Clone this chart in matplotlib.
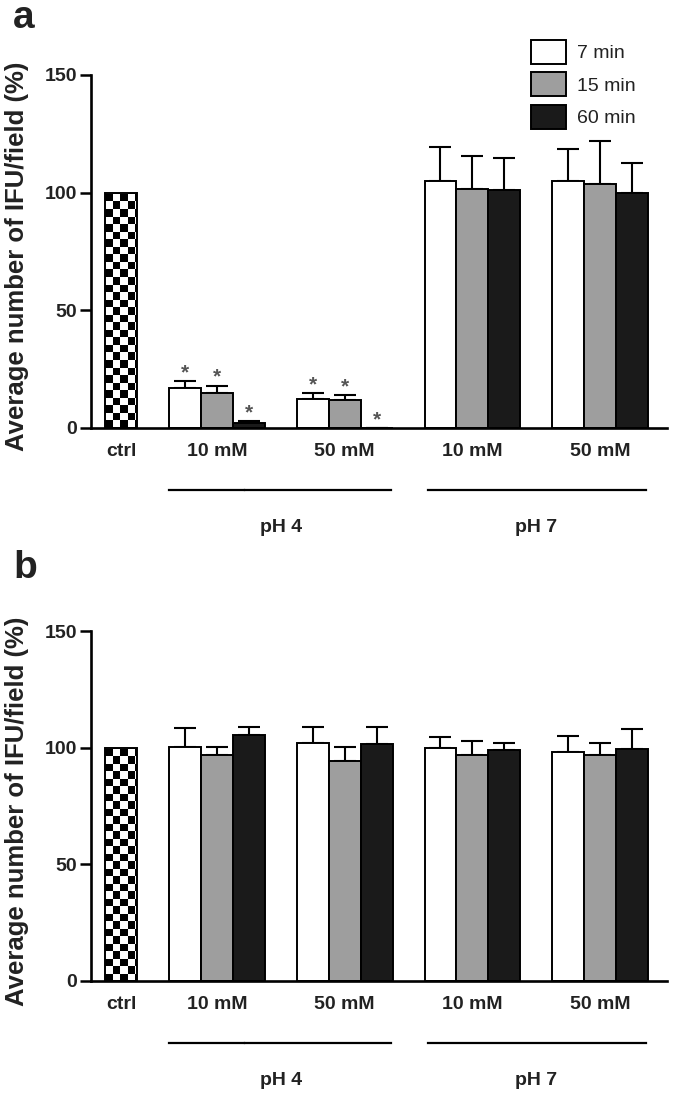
import matplotlib
matplotlib.use("Agg")
import matplotlib.pyplot as plt
from matplotlib.patches import Patch
import numpy as np

plt.rcParams["font.family"] = ["Liberation Sans", "DejaVu Sans"]

# ------------------------------------------------------------------
# Data (percent of ctrl, mean and upper SEM)
# ------------------------------------------------------------------
conditions = ["10 mM", "50 mM", "10 mM", "50 mM"]
ph_groups = ["pH 4", "pH 7"]
times = ["7 min", "15 min", "60 min"]
ctrl_value = 100.0

a_mean_7 = [17.0, 12.5, 105.0, 105.0]
a_sem_7 = [3.0, 2.5, 14.5, 13.5]
a_mean_15 = [15.0, 11.8, 101.5, 103.5]
a_sem_15 = [3.0, 2.2, 14.0, 18.5]
a_mean_60 = [2.0, 0.0, 101.0, 100.0]
a_sem_60 = [1.0, 0.0, 13.5, 12.5]
a_star_7 = [True, True, False, False]
a_star_15 = [True, True, False, False]
a_star_60 = [True, True, False, False]

b_mean_7 = [100.5, 102.0, 100.0, 98.0]
b_sem_7 = [8.0, 7.0, 4.5, 6.8]
b_mean_15 = [97.0, 94.5, 97.0, 97.0]
b_sem_15 = [3.5, 6.0, 6.0, 5.0]
b_mean_60 = [105.5, 101.5, 99.0, 99.5]
b_sem_60 = [3.5, 7.5, 3.0, 8.5]

colors = ["white", "#9e9e9e", "#1a1a1a"]
TEXT = "#222222"
CHECK_W, CHECK_H = 0.235, 3.2


def draw_checker(ax, bar):
    """Fill a bar with a black/white checkerboard."""
    x0, y0 = bar.get_x(), bar.get_y()
    nx = int(np.ceil(bar.get_width() / CHECK_W))
    ny = int(np.ceil(bar.get_height() / CHECK_H))
    board = np.add.outer(np.arange(ny), np.arange(nx)) % 2
    im = ax.imshow(board, cmap="gray", origin="lower", interpolation="nearest",
                   aspect="auto", zorder=1.5,
                   extent=(x0, x0 + nx * CHECK_W, y0, y0 + ny * CHECK_H))
    im.set_clip_path(bar)


def draw_panel(ax, means, sems, stars):
    centers = np.arange(len(conditions)) * 4 + 3
    ctrl = ax.bar([0], [ctrl_value], width=1, facecolor="none",
                  edgecolor="black", linewidth=1.4, zorder=2)[0]
    draw_checker(ax, ctrl)

    for k, (mean, sem, star) in enumerate(zip(means, sems, stars)):
        x = centers + (k - 1)
        ax.bar(x, mean, width=1, color=colors[k], edgecolor="black",
               linewidth=1.4, zorder=2)
        ax.errorbar(x, mean, yerr=[np.zeros(len(sem)), sem], fmt="none",
                    ecolor="black", elinewidth=1.5, capsize=8, capthick=1.5,
                    zorder=1.8)
        for xi, m, s, flag in zip(x, mean, sem, star):
            if flag:
                ax.text(xi, m + s + 3.5, "*", ha="center", va="center",
                        fontsize=15, fontweight="bold", color="#555555")

    ax.set_xlim(-0.94, 17.09)
    ax.set_ylim(0, 150)
    ax.set_yticks([0, 50, 100, 150])
    ax.set_xticks([0] + list(centers))
    ax.set_xticklabels(["ctrl"] + conditions, fontsize=14, fontweight="bold",
                       color=TEXT)
    for lab in ax.get_yticklabels():
        lab.set_fontweight("bold")
        lab.set_color(TEXT)
    ax.tick_params(axis="x", length=0, pad=11)
    ax.tick_params(axis="y", length=8, width=1.8, labelsize=14, pad=2)
    for side in ["top", "right"]:
        ax.spines[side].set_visible(False)
    for side in ["left", "bottom"]:
        ax.spines[side].set_linewidth(1.9)

    # group brackets under the conditions
    trans = ax.get_xaxis_transform()
    brackets = [(1.5, 3.85), (3.88, 8.45), (9.6, 16.45)]
    for x0, x1 in brackets:
        ax.plot([x0, x1], [-0.176, -0.176], color="black", lw=1.6,
                transform=trans, clip_on=False)
    for name, xc in zip(ph_groups, [5, 13]):
        ax.text(xc, -0.283, name, transform=trans, ha="center", va="center",
                fontsize=14, fontweight="bold", color=TEXT)


fig = plt.figure(figsize=(6.75, 10.94), dpi=100)
ax_a = fig.add_axes([0.135, 0.6088, 0.853, 0.3227])
ax_b = fig.add_axes([0.135, 0.1033, 0.853, 0.3199])

draw_panel(ax_a, [a_mean_7, a_mean_15, a_mean_60],
           [a_sem_7, a_sem_15, a_sem_60], [a_star_7, a_star_15, a_star_60])
draw_panel(ax_b, [b_mean_7, b_mean_15, b_mean_60],
           [b_sem_7, b_sem_15, b_sem_60], [[False] * 4] * 3)

ylabel = "Average number of IFU/field (%)"
fig.text(17 / 675, 1 - 256 / 1094, ylabel, rotation=90, ha="center",
         va="center", fontsize=18.5, fontweight="bold", color=TEXT)
fig.text(17 / 675, 1 - 811 / 1094, ylabel, rotation=90, ha="center",
         va="center", fontsize=18.5, fontweight="bold", color=TEXT)

fig.text(13 / 675, 1 - 28 / 1094, "a", fontsize=28, fontweight="bold",
         va="baseline", color=TEXT)
fig.text(13 / 675, 1 - 578 / 1094, "b", fontsize=28, fontweight="bold",
         va="baseline", color=TEXT)

handles = [Patch(facecolor=c, edgecolor="black", linewidth=1.4) for c in colors]
fig.legend(handles, times, loc="upper left",
           bbox_to_anchor=(531 / 675, 1 - 40 / 1094), frameon=False,
           fontsize=14, borderpad=0, borderaxespad=0, handlelength=1.8,
           handleheight=1.5, handletextpad=0.55, labelspacing=0.45,
           labelcolor=TEXT)

fig.savefig("out.png", dpi=100)
